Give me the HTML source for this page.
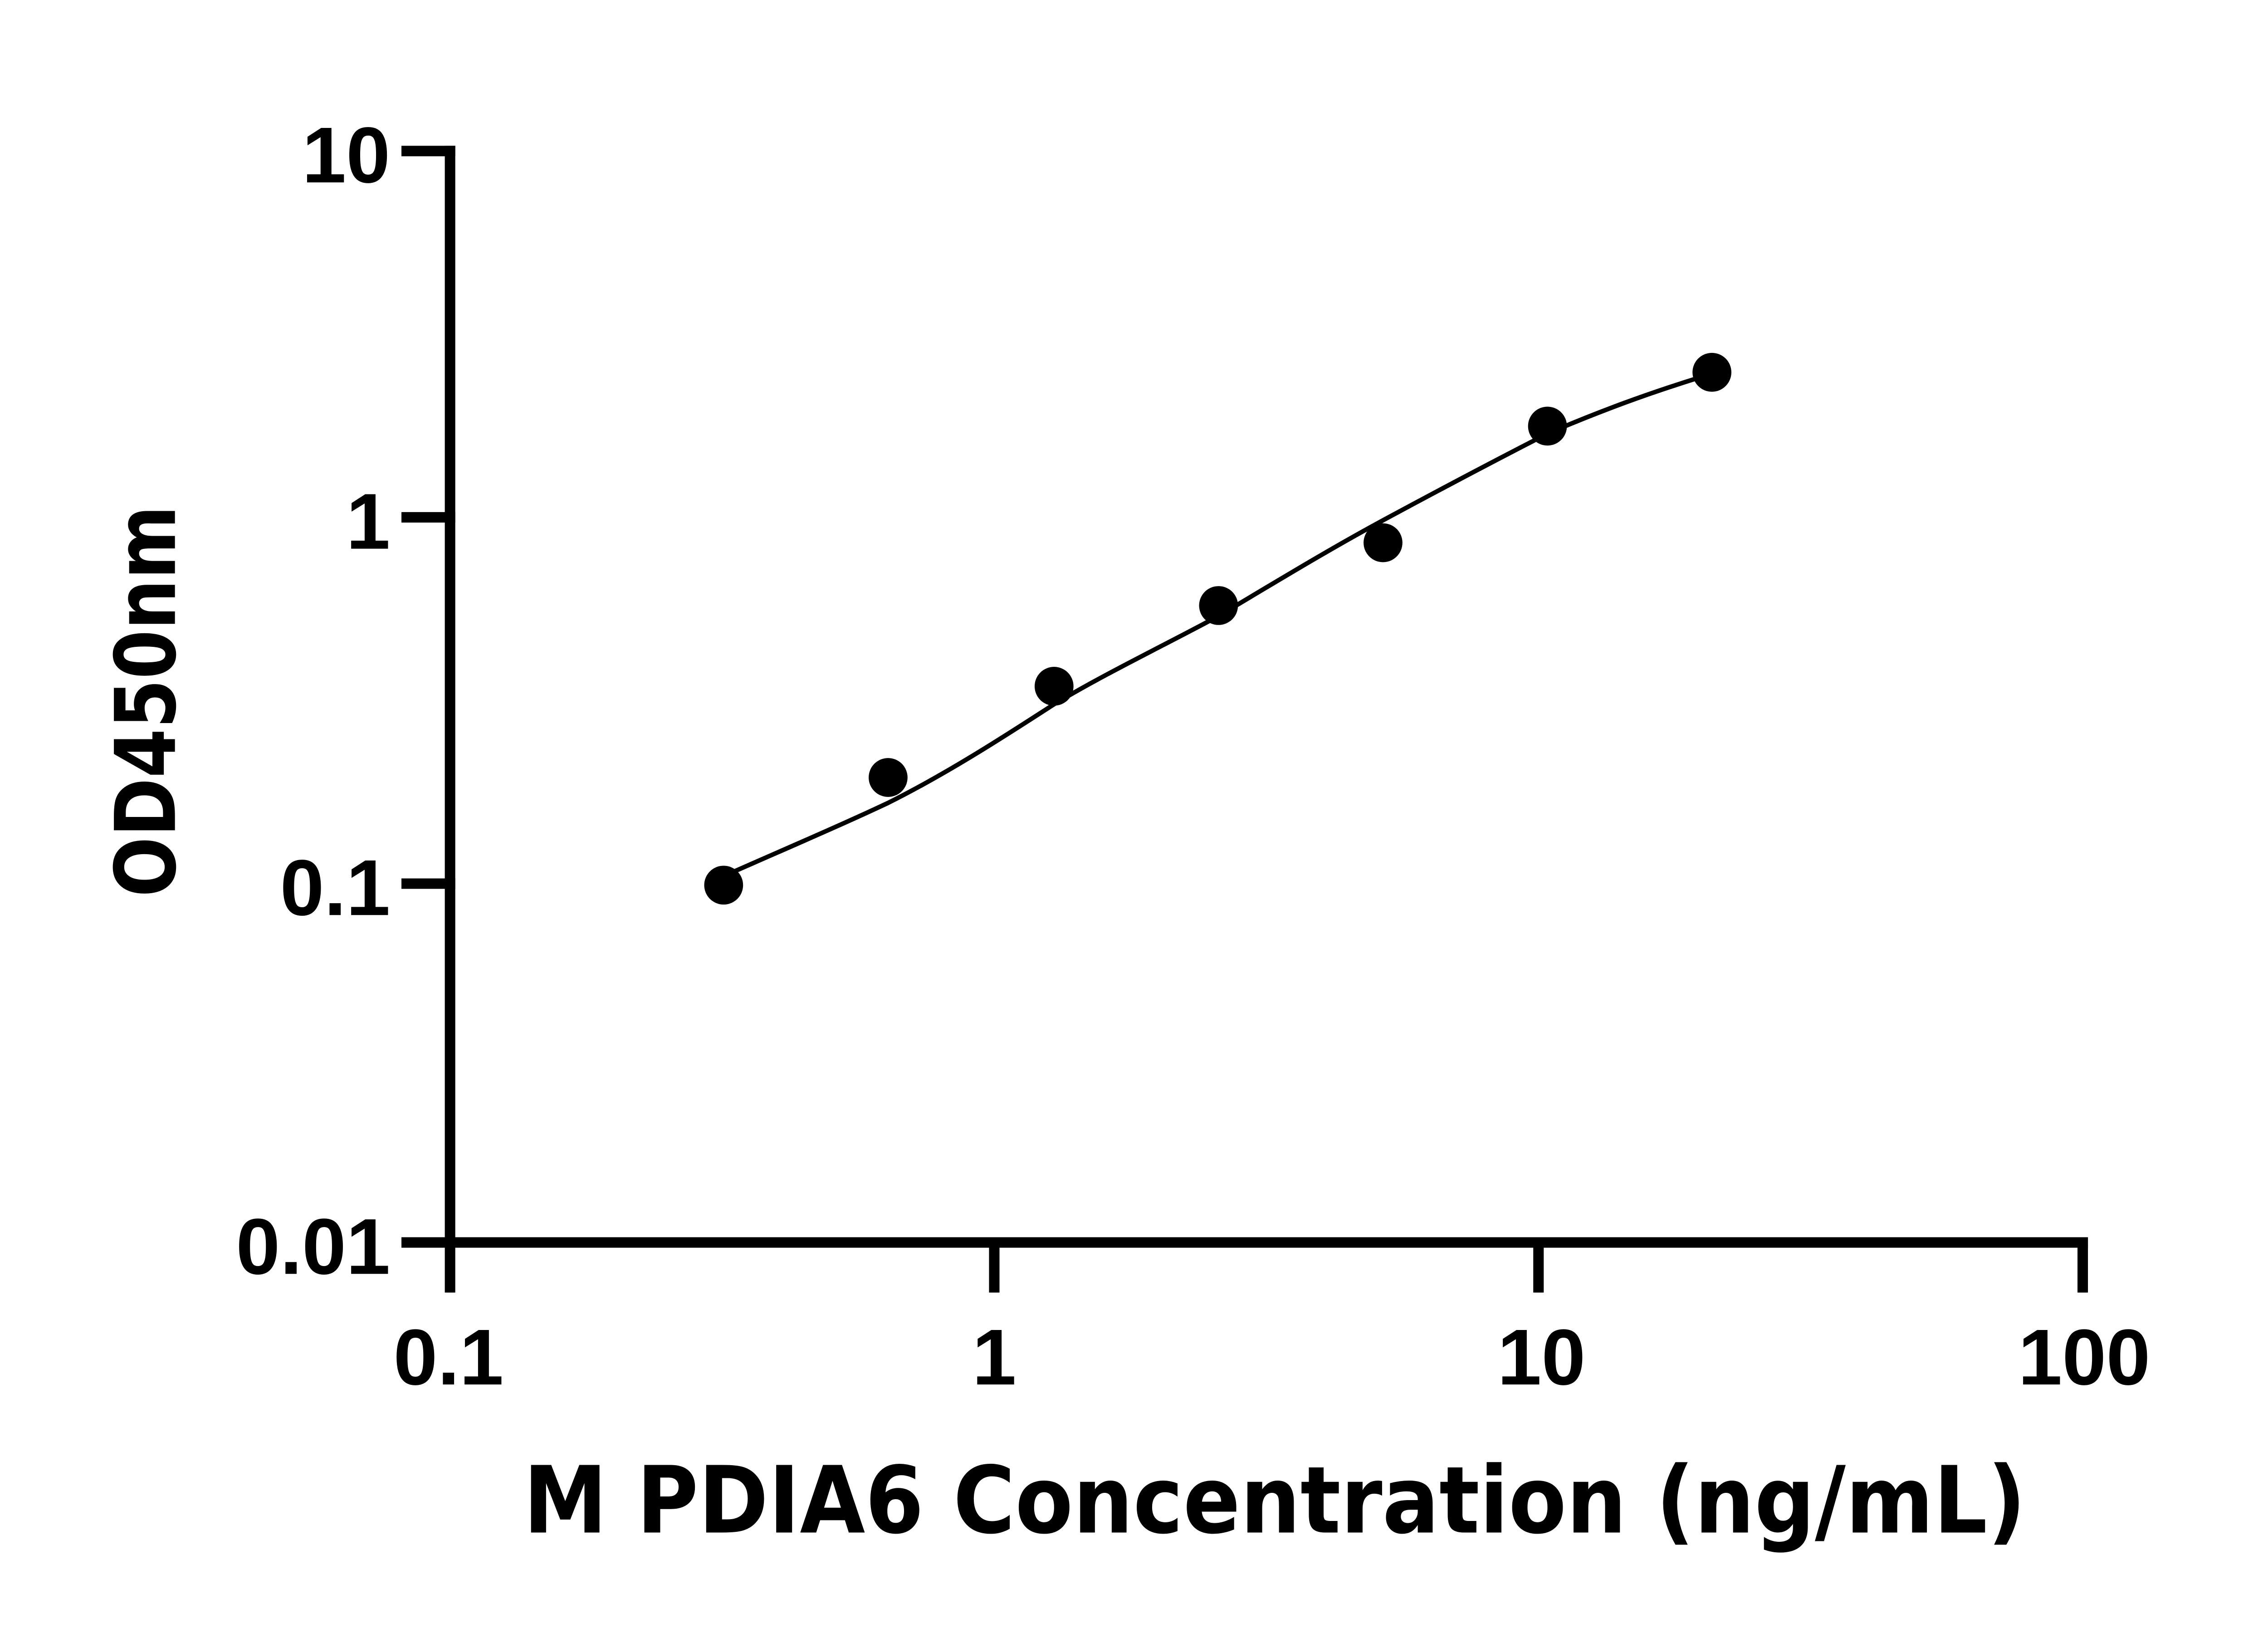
<!DOCTYPE html>
<html><head><meta charset="utf-8"><style>html,body{margin:0;padding:0;background:#fff}svg{display:block}.t{font-family:"Liberation Sans",Arial,sans-serif;font-weight:bold}</style></head>
<body>
<svg width="5142" height="3600" viewBox="0 0 1560 1092.2" preserveAspectRatio="none" xmlns="http://www.w3.org/2000/svg">
<rect width="1560" height="1093" fill="#fff"/>
<g stroke="#000" stroke-width="7" fill="none" stroke-linecap="square">
<path d="M301,101 V831 H1393"/>
<path d="M272,101 H301 M272,346 H301 M272,591 H301 M272,831 H301"/>
<path d="M301,831 V861 M665,831 V861 M1029,831 V861 M1393,831 V861"/>
</g>
<g class="t" font-size="53" fill="#000">
<text x="261" y="122" text-anchor="end">10</text>
<text x="261" y="367" text-anchor="end">1</text>
<text x="261" y="612" text-anchor="end">0.1</text>
<text x="261" y="852" text-anchor="end">0.01</text>
<text x="300" y="926" text-anchor="middle">0.1</text>
<text x="665" y="926" text-anchor="middle">1</text>
<text x="1031" y="926" text-anchor="middle">10</text>
<text x="1394" y="926" text-anchor="middle">100</text>
</g>
<text x="350" y="1025" textLength="1005" lengthAdjust="spacingAndGlyphs" font-family="DejaVu Sans, sans-serif" font-weight="bold" font-size="62" fill="#000">M PDIA6 Concentration (ng/mL)</text>
<text transform="translate(117,600) rotate(-90)" textLength="262" lengthAdjust="spacingAndGlyphs" font-family="DejaVu Sans, sans-serif" font-weight="bold" font-size="56" fill="#000">OD450nm</text>
<path d="M484,586 C520,570 560,553 594,537 C632,518 668,495 705,471 C742,449 778,432 815,412 C852,390 888,368 925,348 C962,328 998,309 1035,290 C1070,275 1100,264 1135,253" stroke="#000" stroke-width="3" fill="none"/>
<g fill="#000">
<circle cx="484" cy="592" r="13"/>
<circle cx="594" cy="520" r="13"/>
<circle cx="705" cy="459" r="13"/>
<circle cx="815" cy="405" r="13"/>
<circle cx="925" cy="363" r="13"/>
<circle cx="1035" cy="285" r="13"/>
<circle cx="1145" cy="249" r="13"/>
</g>
</svg>
</body></html>
